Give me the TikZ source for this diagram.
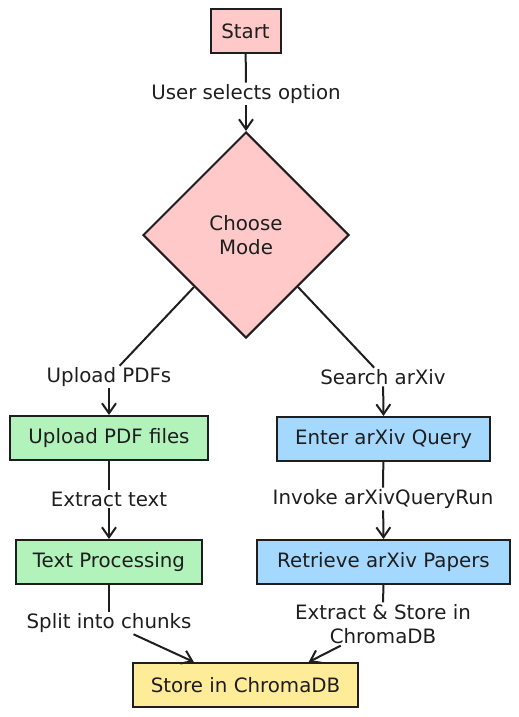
\documentclass[tikz,border=0pt]{standalone}
\usepackage{fontspec}
\setmainfont{DejaVu Sans}
\usetikzlibrary{arrows.meta,shapes.geometric}
\definecolor{ink}{HTML}{1E1E1E}
\definecolor{pinkf}{HTML}{FFC9C9}
\definecolor{greenf}{HTML}{B2F2BB}
\definecolor{bluef}{HTML}{A5D8FF}
\definecolor{yellowf}{HTML}{FFEC99}
\tikzset{
  txt/.style={font=\fontsize{19.8}{24.5}\selectfont, text=ink},
  box/.style={txt, draw=ink, line width=2pt, minimum height=44pt, inner sep=0pt},
  lbl/.style={txt, inner sep=1.5pt, align=center},
  conn/.style={draw=ink, line width=2pt},
  arr/.style={conn, -{Straight Barb[length=10pt,width=14pt,line width=2pt]}},
}
\begin{document}
\begin{tikzpicture}[x=1pt,y=-1pt]
\useasboundingbox (0,0) rectangle (519,717);
\node[box, fill=pinkf, minimum width=70pt] (start) at (245.5,31) {Start};
\node[txt, diamond, draw=ink, line width=2pt, fill=pinkf, minimum width=206pt, minimum height=206pt, inner sep=0pt, aspect=1, align=center] (mode) at (246,235) {Choose\\Mode};
\node[box, fill=greenf, minimum width=198pt] (upload) at (109,438) {Upload PDF files};
\node[box, fill=bluef, minimum width=213pt] (query) at (383.5,439) {Enter arXiv Query};
\node[box, fill=greenf, minimum width=186pt] (textproc) at (109,562) {Text Processing};
\node[box, fill=bluef, minimum width=253pt] (retrieve) at (383.5,562) {Retrieve arXiv Papers};
\node[box, fill=yellowf, minimum width=225pt] (store) at (245.5,685) {Store in ChromaDB};

\node[lbl] (lsel) at (246,94) {User selects option};
\node[lbl] (lup) at (109,377) {Upload PDFs};
\node[lbl] (lsearch) at (383,377) {Search arXiv};
\node[lbl] (lext) at (109,499) {Extract text};
\node[lbl] (linv) at (383,499) {Invoke arXivQueryRun};
\node[lbl] (lsplit) at (109,623) {Split into chunks};
\node[lbl] (lstore) at (383,624) {Extract \& Store in\\ChromaDB};

\draw[conn] (start) -- (lsel);
\draw[arr] (lsel) -- (mode.north);
\draw[conn] (mode.south west) -- (lup);
\draw[arr] (lup) -- (upload.north);
\draw[conn] (mode.south east) -- (lsearch);
\draw[arr] (lsearch) -- (query.north);
\draw[conn] (upload) -- (lext);
\draw[arr] (lext) -- (textproc.north);
\draw[conn] (query) -- (linv);
\draw[arr] (linv) -- (retrieve.north);
\draw[conn] (textproc) -- (lsplit);
\draw[arr] (lsplit) -- (store.156);
\draw[conn] (retrieve) -- (lstore);
\draw[arr] (lstore) -- (store.20);
\end{tikzpicture}
\end{document}
